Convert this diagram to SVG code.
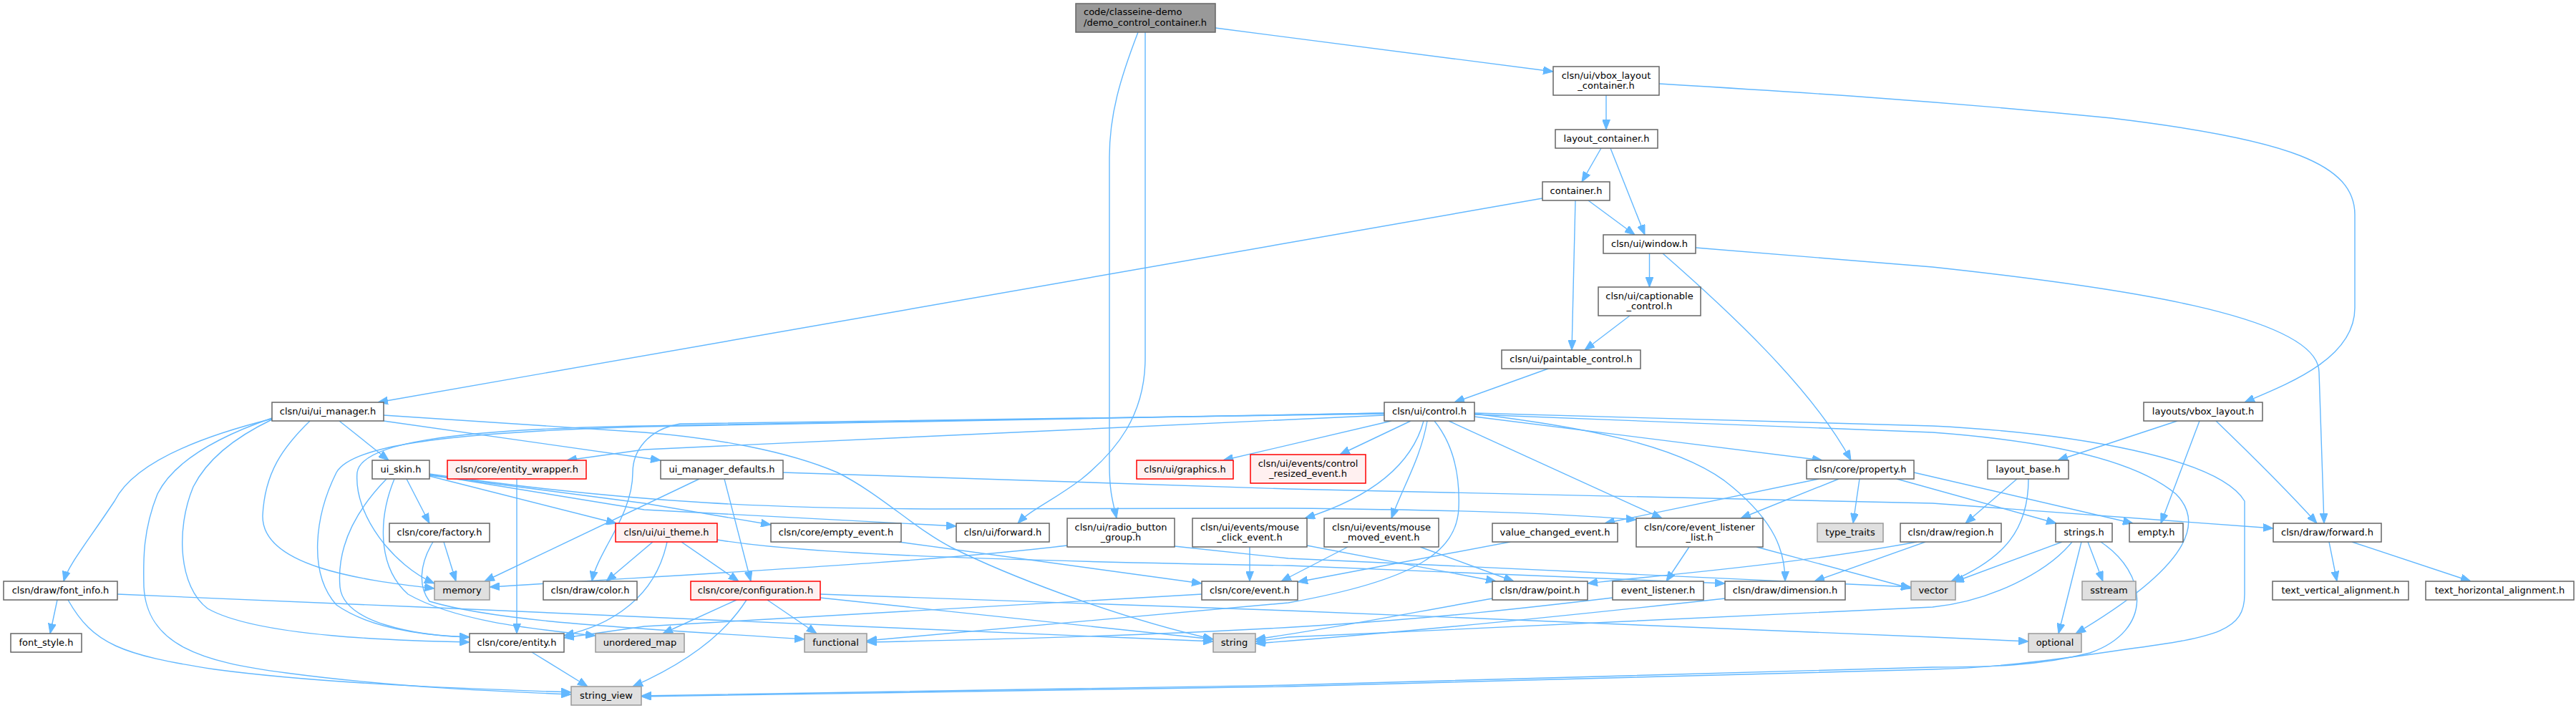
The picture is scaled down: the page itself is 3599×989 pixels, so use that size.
<svg xmlns="http://www.w3.org/2000/svg" width="3599" height="989" viewBox="0 0 3599 989">
<style>
rect{stroke-width:1.5}
.n rect{fill:#ffffff;stroke:#666666}
.root rect{fill:#999999;stroke:#666666}
.sys rect{fill:#E0E0E0;stroke:#999999}
.red rect{fill:#FFF0F0;stroke:#ff0000}
text{font-family:"DejaVu Sans","Liberation Sans",sans-serif;font-size:13px;fill:#000000;text-anchor:middle}
#edges path{fill:none;stroke:#63B8FF;stroke-width:1.4;marker-end:url(#ah)}
</style>
<defs>
<marker id="ah" viewBox="0 0 14 11" refX="14" refY="5.5" markerWidth="14" markerHeight="11" markerUnits="userSpaceOnUse" orient="auto"><path d="M0,0 L14,5.5 L0,11 z" fill="#63B8FF" stroke="#63B8FF" stroke-width="1"/></marker>
</defs>
<rect x="0" y="0" width="3599" height="989" fill="#ffffff" stroke="none"/>
<g id="edges">
<path d="M1698,39 L2170,100"/>
<path d="M1590,45 C1565,110 1550,160 1550,220 L1550,650 C1550,690 1556,705 1560,724"/>
<path d="M1600,45 L1600,500 C1600,580 1560,630 1510,670 C1470,700 1440,712 1422,731"/>
<path d="M2244,133 L2244,181"/>
<path d="M2318,117 C2500,128 2700,140 2950,165 C3200,195 3290,230 3290,300 L3290,430 C3290,500 3200,535 3136,562"/>
<path d="M2237,207 L2210,254"/>
<path d="M2250,207 L2298,328"/>
<path d="M2219,280 L2284,328"/>
<path d="M2201,280 L2196,489"/>
<path d="M2155,277 L528,562"/>
<path d="M2304.5,354 L2304.5,401"/>
<path d="M2323,354 C2410,430 2530,540 2586,643"/>
<path d="M2369,346 L2700,373 C2950,400 3240,440 3240,520 L3247,731"/>
<path d="M2277,441 L2214,489"/>
<path d="M2163,515 L2032,562"/>
<path d="M474,588 L543,643"/>
<path d="M536,588 L923,643"/>
<path d="M536,580 L900,604 C1000,612 1100,630 1170,660 C1230,690 1280,740 1330,765 C1400,800 1550,860 1695,893"/>
<path d="M380,585 C240,620 180,660 160,700 C120,760 95,790 89,812"/>
<path d="M380,584 C290,615 240,650 220,690 C200,740 200,780 201,820 C205,900 280,925 400,940 C550,960 700,966 798,970"/>
<path d="M380,586 C330,610 290,640 270,680 C245,740 250,820 290,850 C360,890 560,895 656,897"/>
<path d="M433,588 C395,625 370,660 367,720 C365,790 500,810 607,822"/>
<path d="M568,669 L600,731"/>
<path d="M540,669 C500,710 470,760 475,820 C480,870 580,888 656,890"/>
<path d="M551,669 C530,720 525,790 570,830 C640,870 760,880 832,888"/>
<path d="M600,665 L861,731"/>
<path d="M600,664 L900,703 L1077,733"/>
<path d="M600,663 L900,712 L1336,735"/>
<path d="M600,662 C900,705 1100,710 1300,711 L1800,710 C2000,712 2150,715 2286,726"/>
<path d="M722,669 L722,885"/>
<path d="M977,669 L677,812"/>
<path d="M1012,669 L1049,812"/>
<path d="M1094,660 L1800,683 L2700,703 L3176,738"/>
<path d="M912,757 L847,812"/>
<path d="M932,757 C925,790 910,820 880,845 C850,870 820,880 788,888"/>
<path d="M952,757 L1032,812"/>
<path d="M1002,754 C1100,770 1300,782 1800,790 L2410,815"/>
<path d="M620,757 L637,812"/>
<path d="M605,757 C585,790 585,820 600,840 C700,870 900,878 1124,893"/>
<path d="M1256,757 L1679,815"/>
<path d="M1491,762 C1300,785 1000,800 684,820"/>
<path d="M1641,763 L1800,780 L2670,820"/>
<path d="M1746,764 L1746,812"/>
<path d="M1826,762 L2090,812"/>
<path d="M1883,764 L1790,812"/>
<path d="M1984,764 L2115,812"/>
<path d="M2110,757 L1813,813"/>
<path d="M2360,764 L2328,812"/>
<path d="M2454,764 L2670,822"/>
<path d="M2541,669 L2242,731"/>
<path d="M2569,669 L2432,724"/>
<path d="M2598,669 L2589,731"/>
<path d="M2650,669 L2873,731"/>
<path d="M2674,660 L2980,731"/>
<path d="M2690,757 L2535,812"/>
<path d="M2678,757 C2500,790 2300,805 2218,815"/>
<path d="M2818,669 L2746,731"/>
<path d="M2834,669 C2834,740 2800,780 2726,812"/>
<path d="M2881,757 L2730,813"/>
<path d="M2895,757 C2860,800 2780,840 2700,848 L1800,890 L1754,896"/>
<path d="M2917,757 L2938,812"/>
<path d="M2908,757 L2876,885"/>
<path d="M2935,757 C3000,800 3010,880 2920,912 C2850,930 2780,932 2700,932 L1800,957 L896,972"/>
<path d="M3042,588 L2875,643"/>
<path d="M3073,588 L3019,731"/>
<path d="M3096,588 C3150,640 3200,690 3237,731"/>
<path d="M3254,757 L3265,812"/>
<path d="M3286,757 L3452,812"/>
<path d="M80,838 L70,885"/>
<path d="M95,838 C130,900 170,915 300,935 C450,955 650,962 798,967"/>
<path d="M164,830 C500,845 900,860 1200,875 L1695,896"/>
<path d="M1029,838 L926,885"/>
<path d="M1043,838 C1010,890 950,930 884,959"/>
<path d="M1072,838 L1141,885"/>
<path d="M1146,835 L1695,893"/>
<path d="M1146,830 L1800,853 L2700,890 L2834,896"/>
<path d="M1679,830 L900,875 L788,891"/>
<path d="M2253,835 C2000,865 1800,885 1211,897"/>
<path d="M2085,836 C1950,860 1850,880 1754,893"/>
<path d="M2410,836 C2100,870 1900,888 1754,899"/>
<path d="M743,911 L821,959"/>
<path d="M1944,588 L1709,643"/>
<path d="M1971,588 L1872,635"/>
<path d="M1989,588 C1975,640 1930,690 1823,724"/>
<path d="M1994,588 C1985,640 1960,680 1944,724"/>
<path d="M2004,588 C2030,620 2040,660 2038,710 C2035,770 1980,810 1800,842 L1211,895"/>
<path d="M2024,588 L2322,724"/>
<path d="M2060,578 C2200,595 2350,620 2420,680 C2480,730 2494,770 2494,812"/>
<path d="M2060,582 L2546,643"/>
<path d="M2060,579 L2700,604 C2850,615 2980,640 3040,690 C3080,730 3060,790 2900,885"/>
<path d="M2060,577 L2700,595 C2900,605 3100,640 3136,700 L3136,830 C3136,880 3100,890 2970,907 C2850,925 2780,933 2700,935 L1800,959 L896,973"/>
<path d="M1934,580 L900,628 L792,643"/>
<path d="M1934,577 L900,596 C600,605 490,625 470,660 C440,720 430,800 470,845 C520,880 600,888 656,890"/>
<path d="M1934,577 L900,595 C620,600 505,620 499,660 C494,720 550,790 607,815"/>
<path d="M1934,578 L950,592 C905,600 884,630 884,660 C884,720 835,770 827,812"/>
</g>
<g id="node-root" class="root"><rect x="1503" y="5" width="195" height="40"/><text x="1514" y="21" style="text-anchor:start">code/classeine-demo</text><text x="1514" y="35.5" style="text-anchor:start">/demo_control_container.h</text></g>
<g id="node-vbox-layout-container" class="n"><rect x="2170" y="93" width="148" height="40"/><text x="2244" y="109.5">clsn/ui/vbox_layout</text><text x="2244" y="124">_container.h</text></g>
<g id="node-layout-container" class="n"><rect x="2173" y="181" width="143" height="26"/><text x="2244.5" y="198">layout_container.h</text></g>
<g id="node-container" class="n"><rect x="2155" y="254" width="94" height="26"/><text x="2202" y="271">container.h</text></g>
<g id="node-window" class="n"><rect x="2240" y="328" width="129" height="26"/><text x="2304.5" y="345">clsn/ui/window.h</text></g>
<g id="node-captionable" class="n"><rect x="2233" y="401" width="143" height="40"/><text x="2304.5" y="417.5">clsn/ui/captionable</text><text x="2304.5" y="432">_control.h</text></g>
<g id="node-paintable" class="n"><rect x="2098" y="489" width="194" height="26"/><text x="2195" y="506">clsn/ui/paintable_control.h</text></g>
<g id="node-control" class="n"><rect x="1934" y="562" width="126" height="26"/><text x="1997" y="579">clsn/ui/control.h</text></g>
<g id="node-ui-manager" class="n"><rect x="380" y="562" width="156" height="26"/><text x="458" y="579">clsn/ui/ui_manager.h</text></g>
<g id="node-vbox-layout" class="n"><rect x="2995" y="562" width="166" height="26"/><text x="3078" y="579">layouts/vbox_layout.h</text></g>
<g id="node-ui-skin" class="n"><rect x="520" y="643" width="80" height="26"/><text x="560" y="660">ui_skin.h</text></g>
<g id="node-entity-wrapper" class="red"><rect x="625" y="643" width="194" height="26"/><text x="722" y="660">clsn/core/entity_wrapper.h</text></g>
<g id="node-ui-manager-defaults" class="n"><rect x="923" y="643" width="171" height="26"/><text x="1008.5" y="660">ui_manager_defaults.h</text></g>
<g id="node-graphics" class="red"><rect x="1588" y="643" width="135" height="26"/><text x="1655.5" y="660">clsn/ui/graphics.h</text></g>
<g id="node-control-resized" class="red"><rect x="1747" y="635" width="161" height="40"/><text x="1827.5" y="651.5">clsn/ui/events/control</text><text x="1827.5" y="666">_resized_event.h</text></g>
<g id="node-property" class="n"><rect x="2524" y="643" width="150" height="26"/><text x="2599" y="660">clsn/core/property.h</text></g>
<g id="node-layout-base" class="n"><rect x="2777" y="643" width="113" height="26"/><text x="2833.5" y="660">layout_base.h</text></g>
<g id="node-factory" class="n"><rect x="544" y="731" width="140" height="26"/><text x="614" y="748">clsn/core/factory.h</text></g>
<g id="node-ui-theme" class="red"><rect x="860" y="731" width="142" height="26"/><text x="931" y="748">clsn/ui/ui_theme.h</text></g>
<g id="node-empty-event" class="n"><rect x="1077" y="731" width="182" height="26"/><text x="1168" y="748">clsn/core/empty_event.h</text></g>
<g id="node-ui-forward" class="n"><rect x="1336" y="731" width="130" height="26"/><text x="1401" y="748">clsn/ui/forward.h</text></g>
<g id="node-radio-button-group" class="n"><rect x="1491" y="724" width="150" height="40"/><text x="1566" y="740.5">clsn/ui/radio_button</text><text x="1566" y="755">_group.h</text></g>
<g id="node-mouse-click" class="n"><rect x="1666" y="724" width="160" height="40"/><text x="1746" y="740.5">clsn/ui/events/mouse</text><text x="1746" y="755">_click_event.h</text></g>
<g id="node-mouse-moved" class="n"><rect x="1850" y="724" width="160" height="40"/><text x="1930" y="740.5">clsn/ui/events/mouse</text><text x="1930" y="755">_moved_event.h</text></g>
<g id="node-value-changed" class="n"><rect x="2085" y="731" width="175" height="26"/><text x="2172.5" y="748">value_changed_event.h</text></g>
<g id="node-event-listener-list" class="n"><rect x="2286" y="724" width="177" height="40"/><text x="2374.5" y="740.5">clsn/core/event_listener</text><text x="2374.5" y="755">_list.h</text></g>
<g id="node-type-traits" class="sys"><rect x="2539" y="731" width="92" height="26"/><text x="2585" y="748">type_traits</text></g>
<g id="node-region" class="n"><rect x="2655" y="731" width="141" height="26"/><text x="2725.5" y="748">clsn/draw/region.h</text></g>
<g id="node-strings" class="n"><rect x="2872" y="731" width="79" height="26"/><text x="2911.5" y="748">strings.h</text></g>
<g id="node-empty" class="n"><rect x="2975" y="731" width="75" height="26"/><text x="3012.5" y="748">empty.h</text></g>
<g id="node-draw-forward" class="n"><rect x="3176" y="731" width="151" height="26"/><text x="3251.5" y="748">clsn/draw/forward.h</text></g>
<g id="node-font-info" class="n"><rect x="5" y="812" width="159" height="26"/><text x="84.5" y="829">clsn/draw/font_info.h</text></g>
<g id="node-memory" class="sys"><rect x="607" y="812" width="77" height="26"/><text x="645.5" y="829">memory</text></g>
<g id="node-color" class="n"><rect x="759" y="812" width="131" height="26"/><text x="824.5" y="829">clsn/draw/color.h</text></g>
<g id="node-configuration" class="red"><rect x="965" y="812" width="181" height="26"/><text x="1055.5" y="829">clsn/core/configuration.h</text></g>
<g id="node-event" class="n"><rect x="1679" y="812" width="134" height="26"/><text x="1746" y="829">clsn/core/event.h</text></g>
<g id="node-point" class="n"><rect x="2085" y="812" width="133" height="26"/><text x="2151.5" y="829">clsn/draw/point.h</text></g>
<g id="node-event-listener" class="n"><rect x="2253" y="812" width="127" height="26"/><text x="2316.5" y="829">event_listener.h</text></g>
<g id="node-dimension" class="n"><rect x="2410" y="812" width="168" height="26"/><text x="2494" y="829">clsn/draw/dimension.h</text></g>
<g id="node-vector" class="sys"><rect x="2670" y="812" width="62" height="26"/><text x="2701" y="829">vector</text></g>
<g id="node-sstream" class="sys"><rect x="2909" y="812" width="75" height="26"/><text x="2946.5" y="829">sstream</text></g>
<g id="node-text-vertical" class="n"><rect x="3175" y="812" width="190" height="26"/><text x="3270" y="829">text_vertical_alignment.h</text></g>
<g id="node-text-horizontal" class="n"><rect x="3389" y="812" width="207" height="26"/><text x="3492.5" y="829">text_horizontal_alignment.h</text></g>
<g id="node-font-style" class="n"><rect x="15" y="885" width="99" height="26"/><text x="64.5" y="902">font_style.h</text></g>
<g id="node-entity" class="n"><rect x="656" y="885" width="132" height="26"/><text x="722" y="902">clsn/core/entity.h</text></g>
<g id="node-unordered-map" class="sys"><rect x="832" y="885" width="124" height="26"/><text x="894" y="902">unordered_map</text></g>
<g id="node-functional" class="sys"><rect x="1124" y="885" width="87" height="26"/><text x="1167.5" y="902">functional</text></g>
<g id="node-string" class="sys"><rect x="1695" y="885" width="59" height="26"/><text x="1724.5" y="902">string</text></g>
<g id="node-optional" class="sys"><rect x="2834" y="885" width="74" height="26"/><text x="2871" y="902">optional</text></g>
<g id="node-string-view" class="sys"><rect x="798" y="959" width="98" height="26"/><text x="847" y="976">string_view</text></g>
</svg>
